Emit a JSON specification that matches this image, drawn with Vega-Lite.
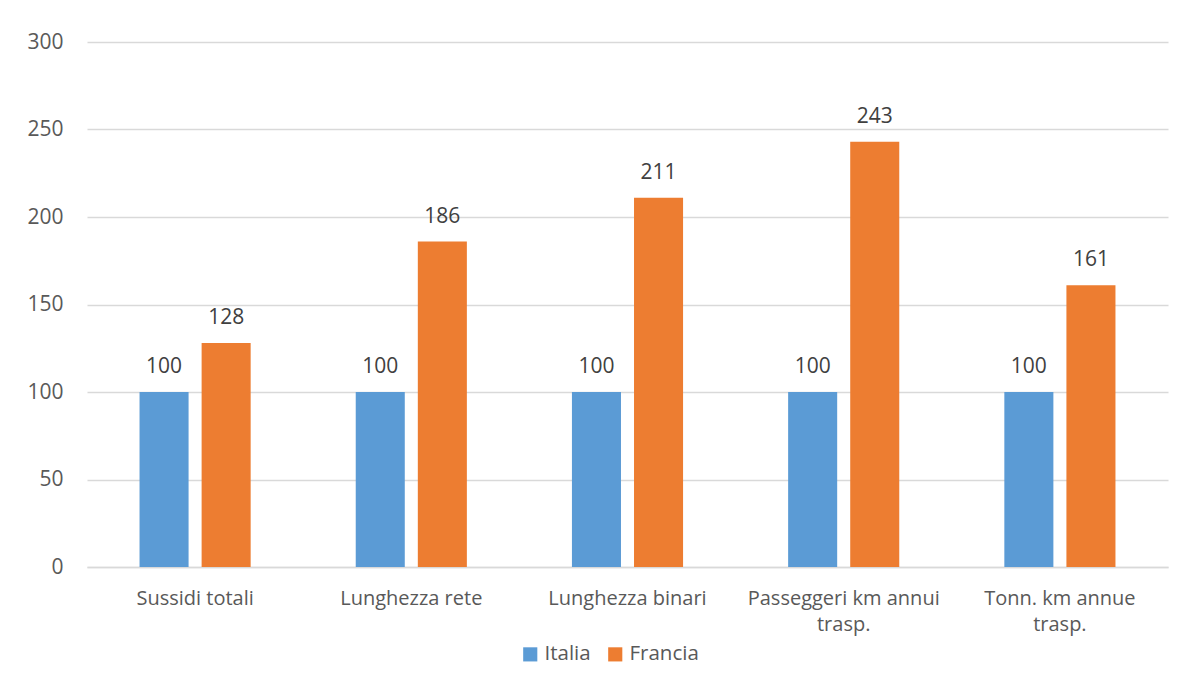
{
  "$schema": "https://vega.github.io/schema/vega-lite/v6.json",
  "width": 1081,
  "height": 525,
  "autosize": {"type": "none"},
  "padding": {"left": 87, "top": 42, "right": 17, "bottom": 117},
  "background": "white",
  "config": {
    "view": {"stroke": null},
    "font": "Open Sans"
  },
  "data": {
    "values": [
      {"cat": "Sussidi totali", "paese": "Italia", "valore": 100},
      {"cat": "Sussidi totali", "paese": "Francia", "valore": 128},
      {"cat": "Lunghezza rete", "paese": "Italia", "valore": 100},
      {"cat": "Lunghezza rete", "paese": "Francia", "valore": 186},
      {"cat": "Lunghezza binari", "paese": "Italia", "valore": 100},
      {"cat": "Lunghezza binari", "paese": "Francia", "valore": 211},
      {"cat": "Passeggeri km annui|trasp.", "paese": "Italia", "valore": 100},
      {"cat": "Passeggeri km annui|trasp.", "paese": "Francia", "valore": 243},
      {"cat": "Tonn. km annue|trasp.", "paese": "Italia", "valore": 100},
      {"cat": "Tonn. km annue|trasp.", "paese": "Francia", "valore": 161}
    ]
  },
  "encoding": {
    "x": {
      "field": "cat", "type": "nominal", "sort": null,
      "scale": {"paddingInner": 0.486, "paddingOuter": 0.243},
      "axis": {
        "title": null, "labelAngle": 0, "labelExpr": "split(datum.label, '|')",
        "labelFontSize": 20, "labelColor": "#595959", "labelPadding": 21, "labelLimit": 400,
        "labelLineHeight": 26, "ticks": false, "domainColor": "#d9d9d9", "domainWidth": 1.5
      }
    },
    "xOffset": {
      "field": "paese", "type": "nominal", "sort": ["Italia", "Francia"],
      "scale": {"paddingInner": 0.21, "paddingOuter": 0}
    },
    "y": {
      "field": "valore", "type": "quantitative",
      "scale": {"domain": [0, 300]},
      "axis": {
        "title": null, "values": [0, 50, 100, 150, 200, 250, 300],
        "labelFontSize": 21, "labelColor": "#595959", "labelPadding": 24,
        "ticks": false, "domain": false, "gridColor": "#d9d9d9", "gridWidth": 1.5
      }
    }
  },
  "layer": [
    {
      "mark": {"type": "bar"},
      "encoding": {
        "color": {
          "field": "paese", "type": "nominal", "sort": ["Italia", "Francia"],
          "scale": {"domain": ["Italia", "Francia"], "range": ["#5b9bd5", "#ed7d31"]},
          "legend": {
            "title": null, "orient": "none", "direction": "horizontal",
            "legendX": 433, "legendY": 602,
            "symbolType": "square", "symbolSize": 200, "symbolStrokeWidth": 0,
            "labelFontSize": 20.5, "labelColor": "#595959", "columnPadding": 14, "labelOffset": 4
          }
        }
      }
    },
    {
      "mark": {"type": "text", "dy": -25, "fontSize": 21, "color": "#404040"},
      "encoding": {"text": {"field": "valore", "type": "quantitative"}}
    }
  ]
}
